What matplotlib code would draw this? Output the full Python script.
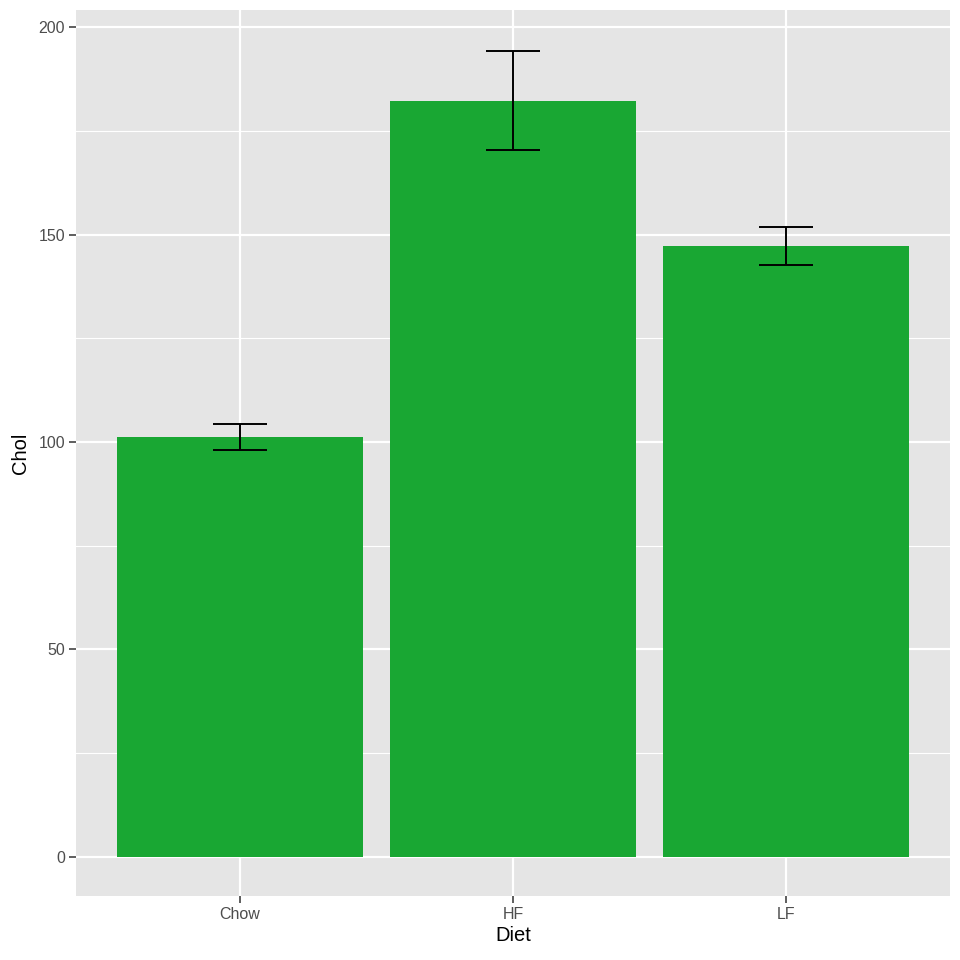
import matplotlib
matplotlib.use("Agg")
import matplotlib.pyplot as plt
from matplotlib.ticker import MultipleLocator

plt.rcParams['font.family'] = ['Liberation Sans', 'DejaVu Sans']

diet = ["Chow", "HF", "LF"]
chol_mean = [101.2, 182.2, 147.2]
chol_se = [3.1, 11.9, 4.5]

fig = plt.figure(figsize=(9.6, 9.6), dpi=100)
ax = fig.add_axes([76 / 960, 64 / 960, 874 / 960, 886 / 960])
ax.set_facecolor("#E5E5E5")

x = range(1, len(diet) + 1)
ax.bar(x, chol_mean, width=0.9, color="#19A733", zorder=3)
ax.errorbar(x, chol_mean, yerr=chol_se, fmt="none", ecolor="black",
            elinewidth=1.4, capsize=19.5, capthick=1.4, zorder=4)

ax.set_xlim(0.4, 3.6)
ax.set_ylim(-9.4, 204.1)
ax.set_xticks(list(x))
ax.set_xticklabels(diet)
ax.yaxis.set_major_locator(MultipleLocator(50))
ax.yaxis.set_minor_locator(MultipleLocator(25))

ax.grid(which="major", color="white", linewidth=1.6, zorder=0)
ax.grid(which="minor", axis="y", color="white", linewidth=0.8, zorder=0)
ax.set_axisbelow(True)

for s in ax.spines.values():
    s.set_visible(False)

ax.tick_params(which="major", length=5, width=1.1, color="#333333",
               labelcolor="#4D4D4D", labelsize=11.5, pad=3)
ax.tick_params(which="minor", length=0)

ax.set_xlabel("Diet", fontsize=14.5, labelpad=3)
ax.set_ylabel("Chol", fontsize=14.5, labelpad=6)

fig.savefig("out.png", dpi=100)
